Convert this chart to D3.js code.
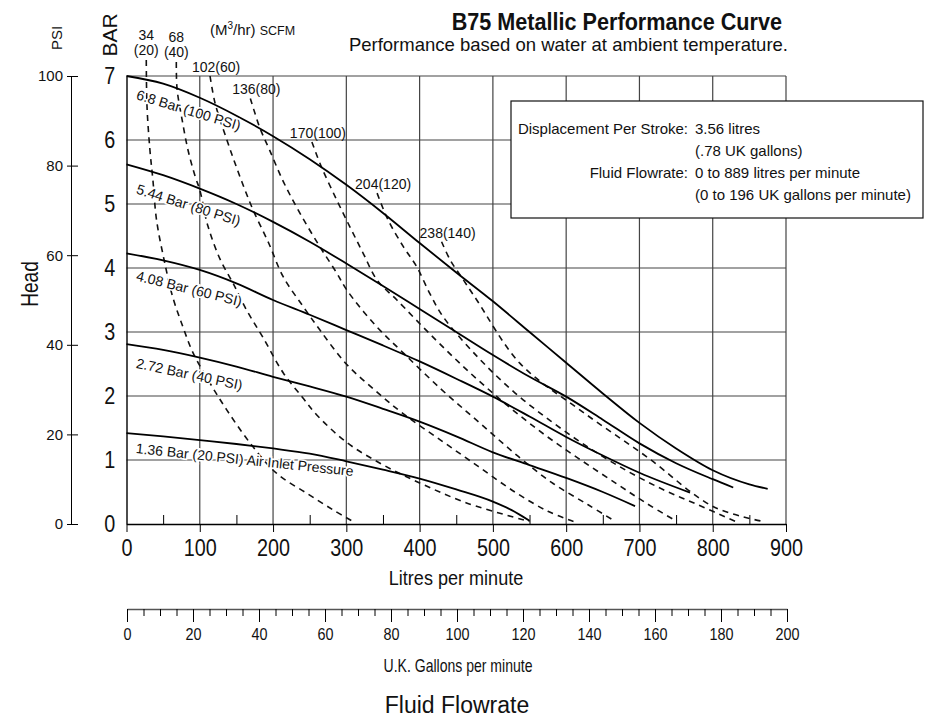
<!DOCTYPE html>
<html>
<head>
<meta charset="utf-8">
<script src="https://cdn.jsdelivr.net/npm/d3@7"></script>
<style>
body { margin: 0; background: #fff; }
text { font-family: "Liberation Sans", Arial, sans-serif; fill: #111; }
</style>
</head>
<body>
<script>
// axis ticks
var litreTicks = [0, 100, 200, 300, 400, 500, 600, 700, 800, 900];
var litreMinor = [50, 150, 250, 350, 450, 550, 650, 750, 850];
var barTicks = [0, 1, 2, 3, 4, 5, 6, 7];
var psiTicks = [0, 20, 40, 60, 80, 100];
var galTicks = [0, 20, 40, 60, 80, 100, 120, 140, 160, 180, 200];
var galMinor = [5, 10, 15, 25, 30, 35, 45, 50, 55, 65, 70, 75, 85, 90, 95, 105, 110, 115, 125, 130, 135, 145, 150, 155, 165, 170, 175, 185, 190, 195];

// air inlet pressure curves: [litres/min, bar]
var p100 = [[0,7.0],[50,6.88],[100,6.66],[150,6.38],[200,6.06],[250,5.7],[300,5.3],[350,4.86],[400,4.39],[450,3.93],[500,3.48],[550,3.0],[600,2.52],[650,2.04],[700,1.58],[750,1.18],[800,0.84],[850,0.62],[875,0.55]];
var p80 = [[0,5.62],[50,5.45],[100,5.24],[150,5.0],[200,4.72],[250,4.41],[300,4.07],[350,3.72],[400,3.36],[450,3.0],[500,2.64],[550,2.3],[600,1.99],[650,1.63],[700,1.26],[750,0.95],[800,0.7],[828,0.57]];
var p60 = [[0,4.23],[50,4.12],[100,3.97],[150,3.76],[200,3.5],[250,3.27],[300,3.03],[350,2.79],[400,2.54],[450,2.27],[500,1.99],[550,1.68],[600,1.36],[650,1.07],[700,0.8],[769,0.49]];
var p40 = [[0,2.81],[50,2.72],[100,2.6],[150,2.46],[200,2.3],[250,2.15],[300,1.99],[350,1.8],[400,1.6],[450,1.37],[500,1.12],[550,0.92],[600,0.72],[650,0.5],[694,0.28]];
var p20 = [[0,1.42],[50,1.37],[100,1.31],[150,1.25],[200,1.18],[250,1.1],[300,0.98],[350,0.85],[400,0.71],[450,0.54],[500,0.35],[525,0.22],[550,0.05]];
var pressureNames = ["6.8 Bar (100 PSI)", "5.44 Bar (80 PSI)", "4.08 Bar (60 PSI)", "2.72 Bar (40 PSI)", "1.36 Bar (20 PSI) Air Inlet Pressure"];

// air consumption curves: [litres/min, bar]
var air20 = [[27,7.25],[28,6.52],[32,5.84],[36,5.38],[41,4.75],[52,4.09],[63,3.55],[77,3.08],[91,2.67],[114,2.2],[137,1.78],[169,1.26],[205,0.79],[246,0.48],[282,0.22],[309,0.04]];
var air40 = [[68,7.22],[69,6.8],[76,6.31],[84,5.84],[94,5.42],[100,5.22],[111,4.66],[128,4.13],[145,3.77],[164,3.34],[186,2.92],[214,2.36],[240,1.98],[260,1.7],[301,1.27],[346,0.95],[391,0.69],[464,0.33],[550,0.04]];
var air60 = [[114,7.0],[121,6.57],[137,6.0],[148,5.64],[160,5.27],[173,4.9],[194,4.39],[214,3.86],[241,3.4],[264,3.03],[300,2.5],[340,2.08],[378,1.72],[430,1.3],[480,0.9],[530,0.5],[575,0.2],[610,0.04]];
var air80 = [[169,6.65],[182,6.19],[195,5.85],[214,5.35],[237,4.85],[264,4.33],[287,3.92],[301,3.65],[340,3.1],[378,2.67],[430,2.1],[480,1.6],[530,1.1],[580,0.65],[630,0.3],[667,0.04]];
var air100 = [[253,5.97],[266,5.58],[287,5.06],[305,4.64],[323,4.23],[342,3.81],[369,3.5],[420,2.9],[470,2.35],[520,1.85],[570,1.4],[620,1.0],[670,0.62],[710,0.32],[751,0.04]];
var air120 = [[342,5.17],[357,4.75],[378,4.33],[396,4.02],[414,3.6],[432,3.24],[480,2.6],[530,2.05],[580,1.6],[630,1.2],[680,0.85],[730,0.55],[780,0.3],[831,0.04]];
var air140 = [[430,4.41],[442,4.12],[460,3.81],[478,3.5],[537,2.51],[619,1.78],[710,1.05],[801,0.27],[869,0.04]];
var airTop = ["34", "68", "", "", "", "", ""];
var airNames = ["(20)", "(40)", "102(60)", "136(80)", "170(100)", "204(120)", "238(140)"];

var infoKeys = ["Displacement Per Stroke:", "", "Fluid Flowrate:", ""];
var infoValues = ["3.56 litres", "(.78 UK gallons)", "0 to 889 litres per minute", "(0 to 196 UK gallons per minute)"];

var svg = d3.select('body').append('svg').attr('width', 929).attr('height', 719);

var x = d3.scaleLinear().domain([0, 900]).range([126.5, 786]);
var y = d3.scaleLinear().domain([0, 7]).range([524, 76]);
var psi = d3.scaleLinear().domain([0, 100]).range([524, 76]);
var gal = d3.scaleLinear().domain([0, 200]).range([127, 787]);

// grid
svg.append('g').selectAll('line').data(litreTicks.slice(1)).enter().append('line')
	.attr('x1', function (d) { return x(d); }).attr('x2', function (d) { return x(d); })
	.attr('y1', y(0)).attr('y2', y(7))
	.attr('stroke', '#444').attr('stroke-width', 1.2);
svg.append('g').selectAll('line').data(barTicks.slice(1)).enter().append('line')
	.attr('x1', x(0)).attr('x2', x(900))
	.attr('y1', function (d) { return y(d); }).attr('y2', function (d) { return y(d); })
	.attr('stroke', '#444').attr('stroke-width', 1.2);

// info box
var box = svg.append('g');
box.append('rect').attr('x', 511).attr('y', 101).attr('width', 412).attr('height', 117)
	.attr('fill', '#fff').attr('stroke', '#111').attr('stroke-width', 1.2);
box.selectAll('.k').data(infoKeys).enter().append('text').attr('class', 'k')
	.attr('x', 688).attr('y', function (d, i) { return 134 + i * 22; })
	.attr('text-anchor', 'end').style('font-size', '15px').text(function (d) { return d; });
box.selectAll('.v').data(infoValues).enter().append('text').attr('class', 'v')
	.attr('x', 695).attr('y', function (d, i) { return 134 + i * 22; })
	.style('font-size', '15px').text(function (d) { return d; });

// litres axis
var xAxis = svg.append('g').attr('transform', 'translate(0,' + y(0) + ')')
	.call(d3.axisBottom(x).tickValues(litreTicks).tickSize(8).tickSizeOuter(0).tickPadding(8));
xAxis.select('.domain').attr('stroke-width', 1.6);
xAxis.selectAll('text').style('font-size', '23px').attr('transform', 'scale(0.86,1)');
svg.append('g').attr('transform', 'translate(0,' + y(0) + ')')
	.call(d3.axisTop(x).tickValues(litreMinor).tickSize(9).tickFormat(''))
	.select('.domain').remove();

// bar axis
var yAxis = svg.append('g').attr('transform', 'translate(' + x(0) + ',0)')
	.call(d3.axisLeft(y).tickValues(barTicks).tickSize(0).tickPadding(13).tickFormat(d3.format('d')));
yAxis.select('.domain').attr('stroke-width', 1.4);
yAxis.selectAll('text').style('font-size', '23px').attr('transform', 'scale(0.86,1)');

// psi axis
var pAxis = svg.append('g').attr('transform', 'translate(71,0)')
	.call(d3.axisLeft(psi).tickValues(psiTicks).tickSize(4).tickSizeOuter(0).tickPadding(4));
pAxis.selectAll('text').style('font-size', '15px');
svg.append('g').attr('transform', 'translate(71,0)')
	.call(d3.axisRight(psi).tickValues(psiTicks).tickSize(7).tickFormat(''))
	.select('.domain').remove();

// gallons axis
var gAxis = svg.append('g').attr('transform', 'translate(0,609)')
	.call(d3.axisBottom(gal).tickValues(galTicks).tickSize(13).tickSizeOuter(0).tickPadding(7));
gAxis.select('.domain').attr('stroke', '#555').attr('stroke-width', 1.5);
gAxis.selectAll('text').style('font-size', '16px').attr('transform', 'scale(0.9,1)');
svg.append('g').attr('transform', 'translate(0,609)')
	.call(d3.axisBottom(gal).tickValues(galMinor).tickSize(7).tickFormat(''))
	.select('.domain').remove();

// curves
var line = d3.line()
	.x(function (d) { return x(d[0]); })
	.y(function (d) { return y(d[1]); });

var airSeries = [air20, air40, air60, air80, air100, air120, air140];
svg.append('g').selectAll('path').data(airSeries).enter().append('path')
	.attr('d', line.curve(d3.curveCatmullRom.alpha(0.5)))
	.attr('fill', 'none').attr('stroke', '#111').attr('stroke-width', 1.6)
	.attr('stroke-dasharray', '6,5');

var pressureSeries = [p100, p80, p60, p40, p20];
svg.append('g').selectAll('path').data(pressureSeries).enter().append('path')
	.attr('d', line.curve(d3.curveMonotoneX))
	.attr('fill', 'none').attr('stroke', '#000').attr('stroke-width', 1.8);

// pressure labels
var labelDrop = [23, 29, 27, 23.5, 20];
var labelTilt = [17, 17.5, 14, 12, 6];
svg.append('g').selectAll('text').data(pressureSeries).enter().append('text')
	.attr('transform', function (d, i) {
		return 'translate(' + (x(0) + 9) + ',' + (y(d[0][1]) + labelDrop[i]) + ') rotate(' + labelTilt[i] + ')';
	})
	.style('font-size', '14px')
	.attr('stroke', '#fff').attr('stroke-width', 3).attr('paint-order', 'stroke')
	.text(function (d, i) { return pressureNames[i]; });

// air consumption labels
var airLab = svg.append('g');
airLab.selectAll('.n').data(airSeries).enter().append('text').attr('class', 'n')
	.attr('x', function (d, i) { return x(d[0][0]) + (i < 2 ? 0 : 6); })
	.attr('y', function (d, i) { return y(d[0][1]) - (i < 2 ? 5 : 4); })
	.attr('text-anchor', 'middle').style('font-size', '14px')
	.text(function (d, i) { return airNames[i]; });
airLab.selectAll('.t').data(airSeries.slice(0, 2)).enter().append('text').attr('class', 't')
	.attr('x', function (d) { return x(d[0][0]); })
	.attr('y', function (d) { return y(d[0][1]) - 20; })
	.attr('text-anchor', 'middle').style('font-size', '14px')
	.text(function (d, i) { return airTop[i]; });

var unit = svg.append('text').attr('x', 210).attr('y', 35).style('font-size', '15px');
unit.append('tspan').text('(M');
unit.append('tspan').attr('dy', -6).style('font-size', '10px').text('3');
unit.append('tspan').attr('dy', 6).text('/hr) ');
unit.append('tspan').style('font-size', '12.5px').text('SCFM');

// titles
svg.append('text').attr('transform', 'translate(782,30) scale(0.94,1)').attr('text-anchor', 'end')
	.style('font-size', '23px').style('font-weight', 'bold').text('B75 Metallic Performance Curve');
svg.append('text').attr('x', 788).attr('y', 51).attr('text-anchor', 'end')
	.style('font-size', '18.5px').text('Performance based on water at ambient temperature.');

svg.append('text').attr('transform', 'translate(62,38) rotate(-90)').attr('text-anchor', 'middle')
	.style('font-size', '15px').text('PSI');
svg.append('text').attr('transform', 'translate(117,35) rotate(-90)').attr('text-anchor', 'middle')
	.style('font-size', '21px').text('BAR');
svg.append('text').attr('transform', 'translate(38,284) rotate(-90) scale(0.83,1)').attr('text-anchor', 'middle')
	.style('font-size', '23px').text('Head');

svg.append('text').attr('transform', 'translate(456,585) scale(0.86,1)').attr('text-anchor', 'middle')
	.style('font-size', '21px').text('Litres per minute');
svg.append('text').attr('transform', 'translate(458,672) scale(0.78,1)').attr('text-anchor', 'middle')
	.style('font-size', '18px').text('U.K. Gallons per minute');
svg.append('text').attr('x', 457).attr('y', 713).attr('text-anchor', 'middle')
	.style('font-size', '23px').text('Fluid Flowrate');
</script>
</body>
</html>
